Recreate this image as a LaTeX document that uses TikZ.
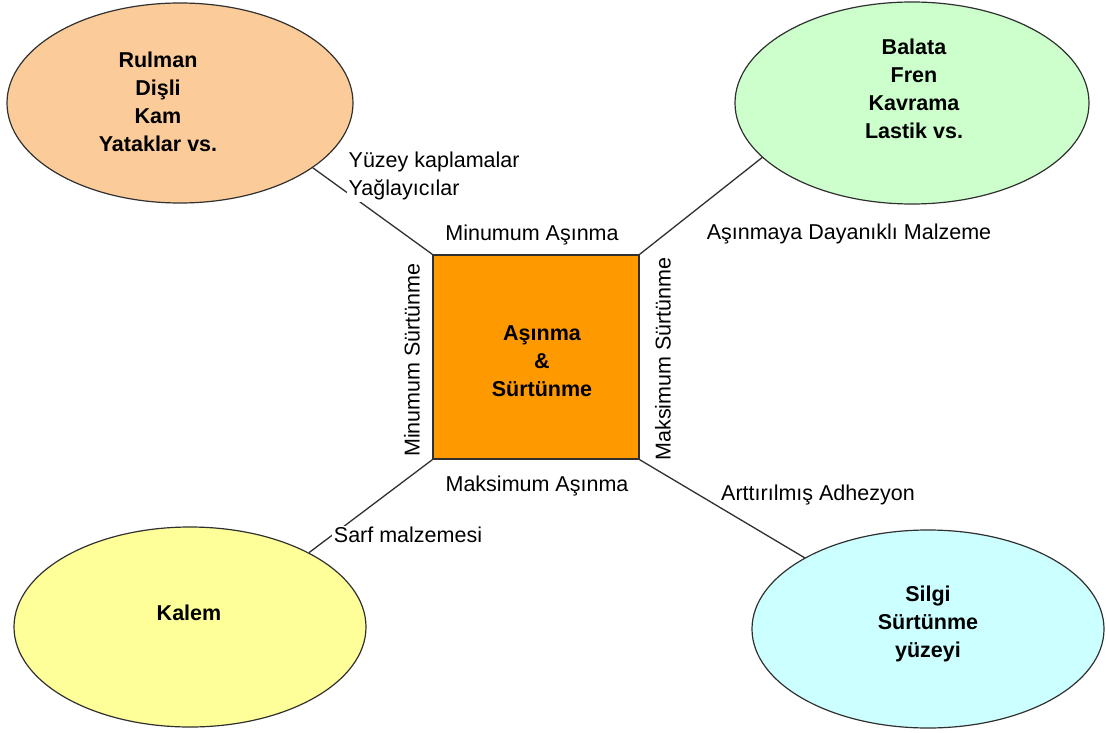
\documentclass[tikz,border=0pt]{standalone}
\usepackage{fontspec}
\setmainfont{Liberation Sans}
\usetikzlibrary{shapes.geometric}
\definecolor{peach}{HTML}{FBCC99}
\definecolor{mint}{HTML}{CCFFCC}
\definecolor{lemon}{HTML}{FFFF99}
\definecolor{aqua}{HTML}{CCFFFF}
\definecolor{core}{HTML}{FF9900}
\definecolor{edge}{HTML}{303030}
\begin{document}
\begin{tikzpicture}[x=1pt,y=-1pt,
  blob/.style={ellipse,draw=edge,line width=1.2pt,inner sep=0pt},
  title/.style={font=\bfseries\fontsize{21.5}{28}\selectfont,align=center,inner sep=0pt},
  lbl/.style={font=\fontsize{21.5}{28}\selectfont,fill=white,inner sep=1.5pt},
  conn/.style={draw=edge,line width=1.3pt}]
\useasboundingbox (0,0) rectangle (1106,733);
\fill[white] (0,0) rectangle (1106,733);
% ellipses
\node[blob,fill=peach,minimum width=346pt,minimum height=200pt] (tl) at (180,103) {};
\node[blob,fill=mint,minimum width=354pt,minimum height=202pt] (tr) at (912,103) {};
\node[blob,fill=lemon,minimum width=352pt,minimum height=200pt] (bl) at (190,627) {};
\node[blob,fill=aqua,minimum width=352pt,minimum height=198pt] (br) at (928,629) {};
% centre square
\node[draw=edge,fill=core,line width=1.5pt,minimum width=206pt,minimum height=204pt,inner sep=0pt] (sq) at (536,357) {};
% titles
\node[title] (tlt) at (158,102) {Rulman\\Dişli\\Kam\\Yataklar vs.};
\node[title] (trt) at (914,89) {Balata\\Fren\\Kavrama\\Lastik vs.};
\node[title] (blt) at (189,613) {Kalem};
\node[title] (brt) at (928,624) {Silgi\\Sürtünme\\yüzeyi};
\node[title] (sqt) at (542,361) {Aşınma\\\&\\Sürtünme};
% connectors
\draw[conn] (tl.-26) -- (sq.north west);
\draw[conn] (tr.200) -- (sq.north east);
\draw[conn] (bl.32) -- (sq.south west);
\draw[conn] (br.150) -- (sq.south east);
% labels
\node[lbl,align=left,anchor=west] (l1) at (347,176) {Yüzey kaplamalar\\Yağlayıcılar};
\node[lbl] (l2) at (532,235) {Minumum Aşınma};
\node[lbl] (l3) at (849,234) {Aşınmaya Dayanıklı Malzeme};
\node[lbl,rotate=90] (l4) at (412,360) {Minumum Sürtünme};
\node[lbl,rotate=90] (l5) at (663,359) {Maksimum Sürtünme};
\node[lbl] (l6) at (537,486) {Maksimum Aşınma};
\node[lbl] (l7) at (818,495) {Arttırılmış Adhezyon};
\node[lbl] (l8) at (408,535) {Sarf malzemesi};
\end{tikzpicture}
\end{document}
